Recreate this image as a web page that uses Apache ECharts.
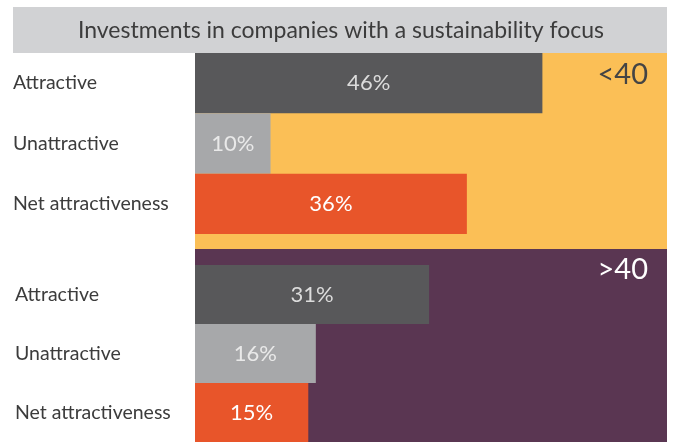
<!DOCTYPE html>
<html>
<head>
<meta charset="utf-8">
<script src="https://cdn.jsdelivr.net/npm/echarts@6/dist/echarts.min.js"></script>
<style>
html,body{margin:0;padding:0;background:#fff;}
#chart{width:673px;height:442px;}
</style>
</head>
<body>
<div id="chart"></div>
<script>
const titleText = 'Investments in companies with a sustainability focus';
const categories = ['Attractive', 'Unattractive', 'Net attractiveness'];
const under40Values = [46, 10, 36];
const over40Values = [31, 16, 15];
const groupLabels = ['<40', '>40'];
const barColors = ['#58585A', '#A7A8AA', '#E8552A'];
const valueLabelColors = ['#DCDCDC', '#E9E9E9', '#FFFFFF'];

const FONT = 'Lato';
const xMax = 62.5;

function makeData(vals) {
  return vals.map((v, i) => ({
    value: v,
    itemStyle: { color: barColors[i] },
    label: { color: valueLabelColors[i] }
  }));
}

const chart = echarts.init(document.getElementById('chart'), null, { renderer: 'canvas' });

const option = {
  animation: false,
  backgroundColor: '#ffffff',
  graphic: [
    { type: 'rect', z: 0, silent: true, shape: { x: 13, y: 7, width: 654, height: 46 }, style: { fill: '#D1D2D4' } },
    { type: 'text', z: 1, silent: true, x: 341, y: 31, style: { text: titleText, fill: '#3C3C3C', font: '23px ' + FONT, textAlign: 'center', textVerticalAlign: 'middle' } },
    { type: 'rect', z: 0, silent: true, shape: { x: 195, y: 53, width: 472, height: 196 }, style: { fill: '#FBBF56' } },
    { type: 'rect', z: 0, silent: true, shape: { x: 195, y: 249, width: 472, height: 193 }, style: { fill: '#5A3652' } },
    { type: 'text', z: 1, silent: true, x: 648, y: 75, style: { text: groupLabels[0], fill: '#444444', font: '29px ' + FONT, textAlign: 'right', textVerticalAlign: 'middle' } },
    { type: 'text', z: 1, silent: true, x: 648, y: 270, style: { text: groupLabels[1], fill: '#FFFFFF', font: '29px ' + FONT, textAlign: 'right', textVerticalAlign: 'middle' } }
  ],
  grid: [
    { left: 195, right: 6, top: 53, height: 181 },
    { left: 195, right: 6, top: 265, height: 180 }
  ],
  xAxis: [
    { type: 'value', gridIndex: 0, min: 0, max: xMax, show: false },
    { type: 'value', gridIndex: 1, min: 0, max: xMax, show: false }
  ],
  yAxis: [
    { type: 'category', gridIndex: 0, inverse: true, data: categories,
      axisLine: { show: false }, axisTick: { show: false },
      axisLabel: { align: 'left', margin: 182, color: '#3C3C3C', fontSize: 19.5, fontFamily: FONT } },
    { type: 'category', gridIndex: 1, inverse: true, data: categories,
      axisLine: { show: false }, axisTick: { show: false },
      axisLabel: { align: 'left', margin: 180, color: '#3C3C3C', fontSize: 19.5, fontFamily: FONT } }
  ],
  series: [
    { type: 'bar', xAxisIndex: 0, yAxisIndex: 0, barCategoryGap: 0, z: 2,
      data: makeData(under40Values),
      label: { show: true, position: 'inside', formatter: '{c}%', fontSize: 22, fontFamily: FONT } },
    { type: 'bar', xAxisIndex: 1, yAxisIndex: 1, barCategoryGap: 0, z: 2,
      data: makeData(over40Values),
      label: { show: true, position: 'inside', formatter: '{c}%', fontSize: 22, fontFamily: FONT } }
  ]
};
chart.setOption(option);
</script>
</body>
</html>
